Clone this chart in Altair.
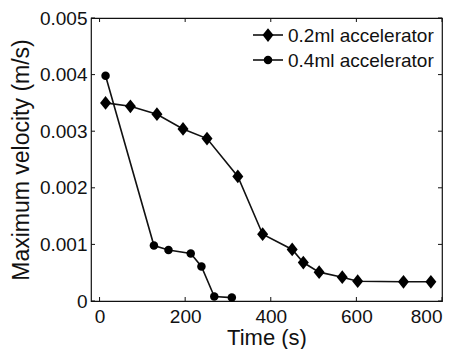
import altair as alt
import pandas as pd

# Maximum velocity over time for two accelerator doses
t_02 = [14, 72, 134, 195, 251, 323, 381, 450, 476, 513, 567, 603, 710, 774]
v_02 = [0.00350, 0.00344, 0.00330, 0.00304, 0.00287, 0.00220, 0.00118,
        0.00091, 0.00068, 0.00051, 0.00042, 0.00035, 0.00034, 0.00034]
t_04 = [14, 127, 161, 213, 238, 268, 309]
v_04 = [0.00398, 0.00098, 0.00090, 0.00084, 0.00061, 0.00008, 0.00006]

series_names = ["0.2ml accelerator", "0.4ml accelerator"]
x_ticks = [0, 200, 400, 600, 800]
y_ticks = [0, 0.001, 0.002, 0.003, 0.004, 0.005]

W, H = 351, 283
FONT = "Liberation Sans"
DIAMOND = "M0,-1.25L1,0L0,1.25L-1,0Z"

df = pd.concat([
    pd.DataFrame({"t": t_02, "v": v_02, "series": series_names[0]}),
    pd.DataFrame({"t": t_04, "v": v_04, "series": series_names[1]}),
])

xs = alt.Scale(domain=[-20, 800], nice=False, zero=False)
ys = alt.Scale(domain=[0, 0.005], nice=False)

x_enc = alt.X("t:Q", scale=xs, title="Time (s)",
              axis=alt.Axis(values=x_ticks, format="d"))
y_enc = alt.Y("v:Q", scale=ys, title="Maximum velocity (m/s)",
              axis=alt.Axis(values=y_ticks,
                            labelExpr="datum.value == 0 ? '0' : format(datum.value, '.3f')"))

base = alt.Chart(df)
lines = base.mark_line(color="#111", strokeWidth=1.6).encode(
    x=x_enc, y=y_enc, detail="series:N")

pts_02 = alt.Chart(df[df.series == series_names[0]]).mark_point(
    shape=DIAMOND, size=121, filled=True, color="#000", opacity=1
).encode(x=alt.X("t:Q", scale=xs), y=alt.Y("v:Q", scale=ys))

pts_04 = alt.Chart(df[df.series == series_names[1]]).mark_point(
    shape="circle", size=72, filled=True, color="#000", opacity=1
).encode(x=alt.X("t:Q", scale=xs), y=alt.Y("v:Q", scale=ys))

# inward tick marks on all four sides of the box
xt = alt.Chart(pd.DataFrame({"t": x_ticks}))
yt = alt.Chart(pd.DataFrame({"v": y_ticks}))
tick_style = dict(color="#111", strokeWidth=1)
ticks = [
    xt.mark_rule(**tick_style).encode(x=alt.X("t:Q", scale=xs), y=alt.value(H), y2=alt.value(H - 4)),
    xt.mark_rule(**tick_style).encode(x=alt.X("t:Q", scale=xs), y=alt.value(0), y2=alt.value(4)),
    yt.mark_rule(**tick_style).encode(y=alt.Y("v:Q", scale=ys), x=alt.value(0), x2=alt.value(4)),
    yt.mark_rule(**tick_style).encode(y=alt.Y("v:Q", scale=ys), x=alt.value(W), x2=alt.value(W - 4)),
]

# legend drawn in the top-right corner
legend_layers = []
for i, (name, shape, size) in enumerate(zip(series_names, [DIAMOND, "circle"], [121, 72])):
    yy = 17 + i * 25
    one = alt.Chart(pd.DataFrame({"name": [name]}))
    legend_layers += [
        one.mark_rule(color="#111", strokeWidth=1.6).encode(
            x=alt.value(162), x2=alt.value(192), y=alt.value(yy)),
        one.mark_point(shape=shape, size=size, filled=True, color="#000", opacity=1).encode(
            x=alt.value(177), y=alt.value(yy)),
        one.mark_text(align="left", baseline="middle", font=FONT, fontSize=19, color="#111").encode(
            x=alt.value(197), y=alt.value(yy + 1), text="name:N"),
    ]

chart = alt.layer(lines, pts_02, pts_04, *ticks, *legend_layers).properties(
    width=W, height=H,
    autosize=alt.AutoSizeParams(type="none"),
    padding={"left": 91, "top": 18, "right": 16, "bottom": 48},
).configure_view(
    stroke="#111", strokeWidth=1.2
).configure_axis(
    grid=False, ticks=False, domain=False,
    labelFont=FONT, labelFontSize=19, labelColor="#111",
    titleFont=FONT, titleFontSize=22, titleFontWeight="normal", titleColor="#111",
).configure_axisX(
    labelPadding=6, titlePadding=1,
).configure_axisY(
    labelPadding=4, titlePadding=6, titleFontSize=23,
)

chart.save("out.html", embed_options={"renderer": "svg", "actions": False})
